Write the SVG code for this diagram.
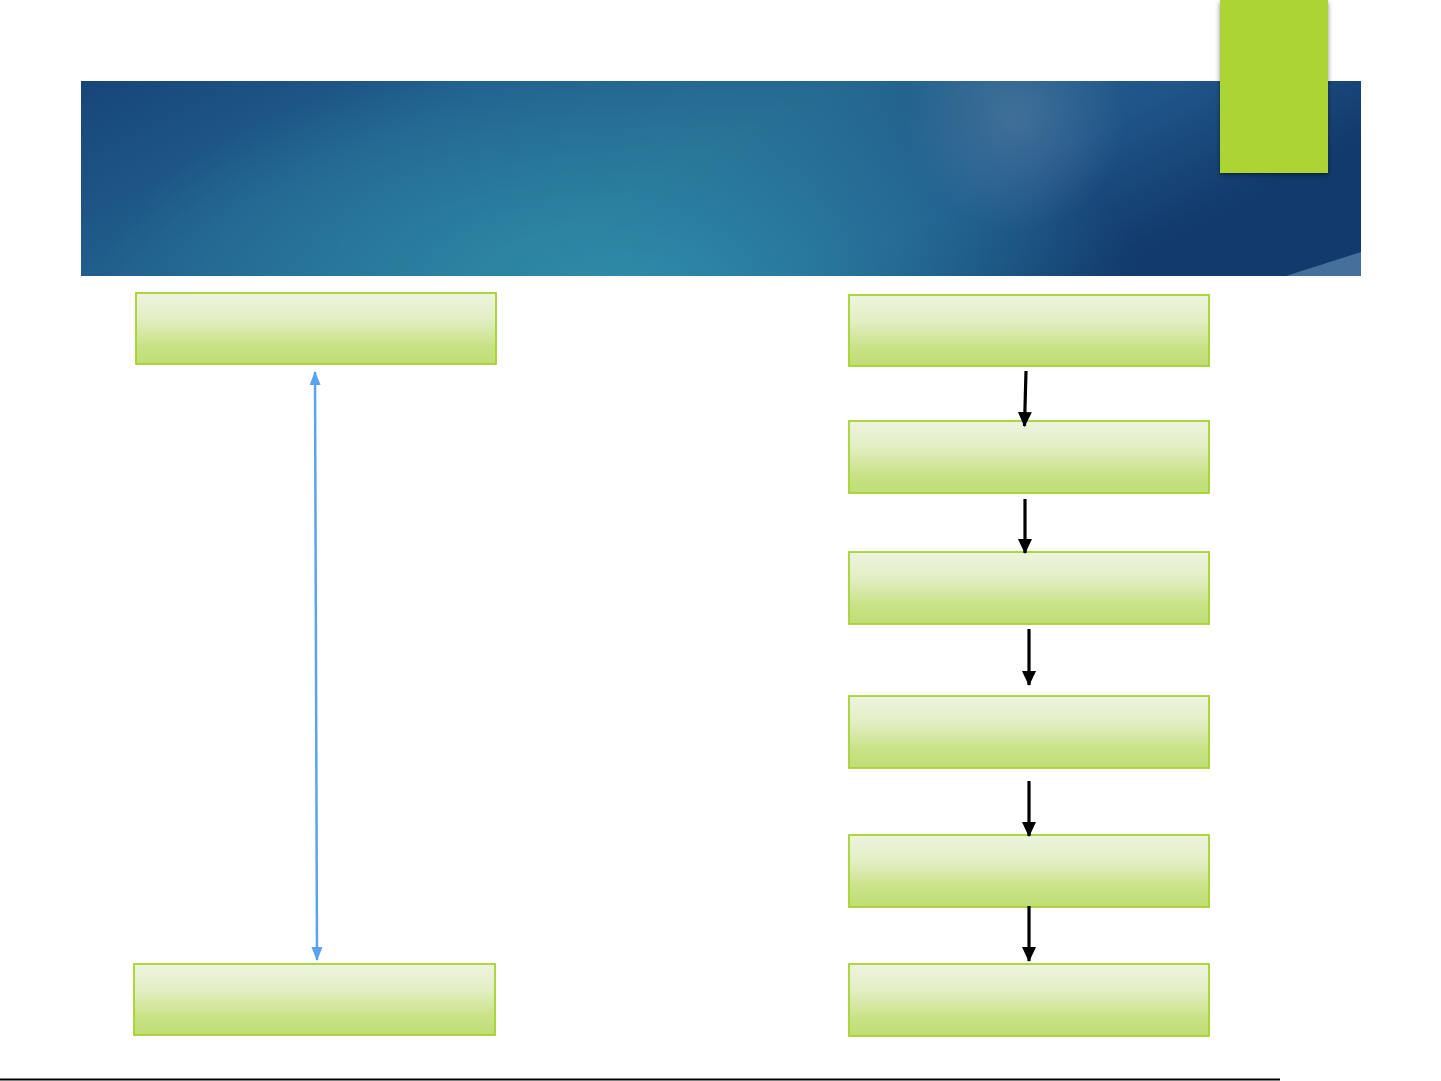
<svg xmlns="http://www.w3.org/2000/svg" width="1441" height="1081" viewBox="0 0 1441 1081">
<style>
.box{fill:url(#gbox);stroke:#a6d22e;stroke-width:1.8}
.blk{stroke:#000;stroke-width:3.2;fill:none;marker-end:url(#ah)}
.blu{stroke:#5ba3ef;stroke-width:2.5;fill:none;marker-start:url(#bh);marker-end:url(#bh)}
</style>
<defs>
<linearGradient id="gbox" x1="0" y1="0" x2="0" y2="1">
<stop offset="0" stop-color="#edf4de"/>
<stop offset="0.35" stop-color="#e3efc6"/>
<stop offset="0.75" stop-color="#c8e285"/>
<stop offset="1" stop-color="#c0dd76"/>
</linearGradient>
<linearGradient id="gban" x1="0" y1="0" x2="1" y2="0.3">
<stop offset="0" stop-color="#17457a"/>
<stop offset="0.3" stop-color="#21608d"/>
<stop offset="0.55" stop-color="#25688f"/>
<stop offset="0.8" stop-color="#1f5488"/>
<stop offset="1" stop-color="#123a6c"/>
</linearGradient>
<radialGradient id="gteal" cx="620" cy="290" r="520" gradientTransform="translate(620 290) scale(1 0.45) translate(-620 -290)" gradientUnits="userSpaceOnUse">
<stop offset="0" stop-color="#2f8fab" stop-opacity="0.95"/>
<stop offset="1" stop-color="#2f8fab" stop-opacity="0"/>
</radialGradient>
<radialGradient id="gglow" cx="1015" cy="120" r="110" gradientUnits="userSpaceOnUse">
<stop offset="0" stop-color="#5f85a8" stop-opacity="0.5"/>
<stop offset="1" stop-color="#5f85a8" stop-opacity="0"/>
</radialGradient>
<filter id="sh" x="-20%" y="-20%" width="140%" height="140%">
<feDropShadow dx="0" dy="2" stdDeviation="2.5" flood-color="#000" flood-opacity="0.45"/>
</filter>
<marker id="ah" viewBox="0 0 15 14" refX="14" refY="7" markerUnits="userSpaceOnUse" markerWidth="15" markerHeight="14" orient="auto">
<path d="M0,0 L15,7 L0,14 z" fill="#000"/>
</marker>
<marker id="bh" viewBox="0 0 14 11" refX="13" refY="5.5" markerUnits="userSpaceOnUse" markerWidth="14" markerHeight="11" orient="auto-start-reverse">
<path d="M0,0 L14,5.5 L0,11 z" fill="#5ba3ef"/>
</marker>
</defs>
<rect width="1441" height="1081" fill="#fff"/>
<g id="banner">
<rect x="81" y="81" width="1280" height="195" fill="url(#gban)"/>
<rect x="81" y="81" width="1280" height="195" fill="url(#gteal)"/>
<rect x="81" y="81" width="1280" height="195" fill="url(#gglow)"/>
<path d="M1286,276 Q1330,262 1361,252 L1361,276 Z" fill="#4f7aa3" opacity="0.85"/>
</g>
<g id="tab">
<rect x="1220" y="0" width="108" height="173" fill="#acd434" filter="url(#sh)"/>
</g>
<g id="left-top"><rect class="box" x="136" y="293" width="360" height="71"/></g>
<g id="left-bottom"><rect class="box" x="134" y="964" width="361" height="71"/></g>
<g id="r1"><rect class="box" x="849" y="295" width="360" height="71"/></g>
<g id="r2"><rect class="box" x="849" y="421" width="360" height="72"/></g>
<g id="r3"><rect class="box" x="849" y="552" width="360" height="72"/></g>
<g id="r4"><rect class="box" x="849" y="696" width="360" height="72"/></g>
<g id="r5"><rect class="box" x="849" y="835" width="360" height="72"/></g>
<g id="r6"><rect class="box" x="849" y="964" width="360" height="72"/></g>
<g id="connectors">
<line class="blu" x1="315" y1="372" x2="317" y2="960"/>
<line class="blk" x1="1026" y1="371" x2="1024.5" y2="426"/>
<line class="blk" x1="1025" y1="499" x2="1025" y2="553"/>
<line class="blk" x1="1029" y1="629" x2="1029" y2="685"/>
<line class="blk" x1="1029" y1="781" x2="1029" y2="836"/>
<line class="blk" x1="1029" y1="906" x2="1029" y2="961"/>
</g>
<g id="footer-line">
<line x1="0" y1="1079.5" x2="1280" y2="1079.5" stroke="#000" stroke-width="2"/>
</g>
</svg>
